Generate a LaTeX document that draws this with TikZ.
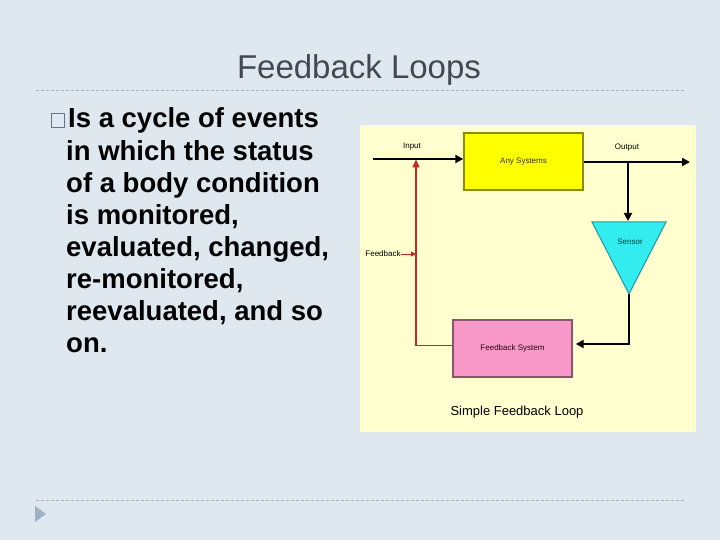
\documentclass[tikz,border=0pt]{standalone}
\usepackage{fontspec}
\setmainfont{Liberation Sans}
\usetikzlibrary{arrows.meta}
\definecolor{slidebg}{RGB}{222,232,238}
\definecolor{titlegray}{RGB}{68,72,82}
\definecolor{rulegray}{RGB}{168,176,184}
\definecolor{navblue}{RGB}{156,178,200}
\definecolor{boxedge}{RGB}{100,112,150}
\definecolor{cream}{RGB}{255,255,208}
\definecolor{anyyellow}{RGB}{255,255,0}
\definecolor{sensorcyan}{RGB}{51,236,240}
\definecolor{fbpink}{RGB}{248,152,200}
\definecolor{fbred}{RGB}{200,36,36}
\tikzset{
  lbl/.style={font=\fontsize{8}{9}\selectfont, inner sep=0pt},
  sysbox/.style={draw=#1, line width=1.4pt, minimum width=119pt, minimum height=57pt, inner sep=0pt, font=\fontsize{8}{9}\selectfont},
  flow/.style={line width=2pt, -{Triangle[length=8pt,width=8pt]}},
  fbflow/.style={fbred, line width=1.7pt, -{Triangle[length=8pt,width=7pt]}},
  bodyline/.style={anchor=base west, inner sep=0pt, font=\bfseries\fontsize{27.5}{32}\selectfont},
  slide rule/.style={rulegray, line width=0.8pt, dash pattern=on 3pt off 2pt}
}
\begin{document}
\begin{tikzpicture}[x=1pt,y=-1pt]
\useasboundingbox (0,0) rectangle (720,540);
\fill[slidebg] (0,0) rectangle (720,540);
% title and rules:
\node[anchor=base, inner sep=0pt, text=titlegray, font=\fontsize{33}{36}\selectfont] (title) at (359,79) {Feedback Loops};
\draw[slide rule] (36,90) -- (685,90);
\draw[slide rule] (36,500) -- (685,500);
\fill[navblue] (35,506) -- (46,514) -- (35,522) -- cycle;
% bullet text:
\node[draw=boxedge, line width=0.9pt, minimum width=13pt, minimum height=14pt, inner sep=0pt] (bulletbox) at (58,120.5) {};
\foreach \txt [count=\i from 0] in {Is a cycle of events, in which the status, of a body condition, {is monitored,}, {evaluated, changed,}, {re-monitored,}, {reevaluated, and so}, on.}
  \node[bodyline] (line\i) at ({\i==0 ? 68 : 66},128+32.1*\i) {\txt};
% picture:
\fill[cream] (360,125) rectangle (696,432);
\node[sysbox=black!45!anyyellow, fill=anyyellow, text=black!80!anyyellow] (anysys) at (523.5,161.5) {Any Systems};
\node[sysbox=black!45!fbpink, fill=fbpink, text=black!80!purple] (fbsys) at (512.5,348.5) {Feedback System};
\filldraw[fill=sensorcyan, draw=black!35!sensorcyan, line width=1pt] (592,222) -- (666,222) -- (629,294) -- cycle;
\node[lbl, text=black!75!sensorcyan] (sensor) at (630,242) {Sensor};
\coordinate (apex) at (629,294);
\coordinate (inStart) at (373,159);
\coordinate (outEnd) at (690,162);
\coordinate (branch) at (628,162);
\coordinate (sensorTop) at (628,221);
\coordinate (junc) at (416,159.5);
\node[lbl] (input) at (412,147) {Input};
\node[lbl] (output) at (627,148) {Output};
\node[lbl] (fblabel) at (383,254) {Feedback};
\node[font=\fontsize{13}{15}\selectfont, inner sep=0pt] (caption) at (517,412) {Simple Feedback Loop};
% forward path:
\draw[flow] (inStart) -- (inStart -| anysys.west);
\draw[flow] (anysys.east |- outEnd) -- (outEnd);
\draw[flow] (branch) -- (sensorTop);
\draw[flow, shorten >=3pt] (apex) |- ([yshift=4.5pt]fbsys.east);
% feedback path:
\draw[fbflow] ([yshift=3pt]fbsys.west) -| (junc);
\draw[fbflow, line width=1pt, -{Triangle[length=5pt,width=5pt]}] (fblabel.east) -- (fblabel.east -| junc);
\end{tikzpicture}
\end{document}
